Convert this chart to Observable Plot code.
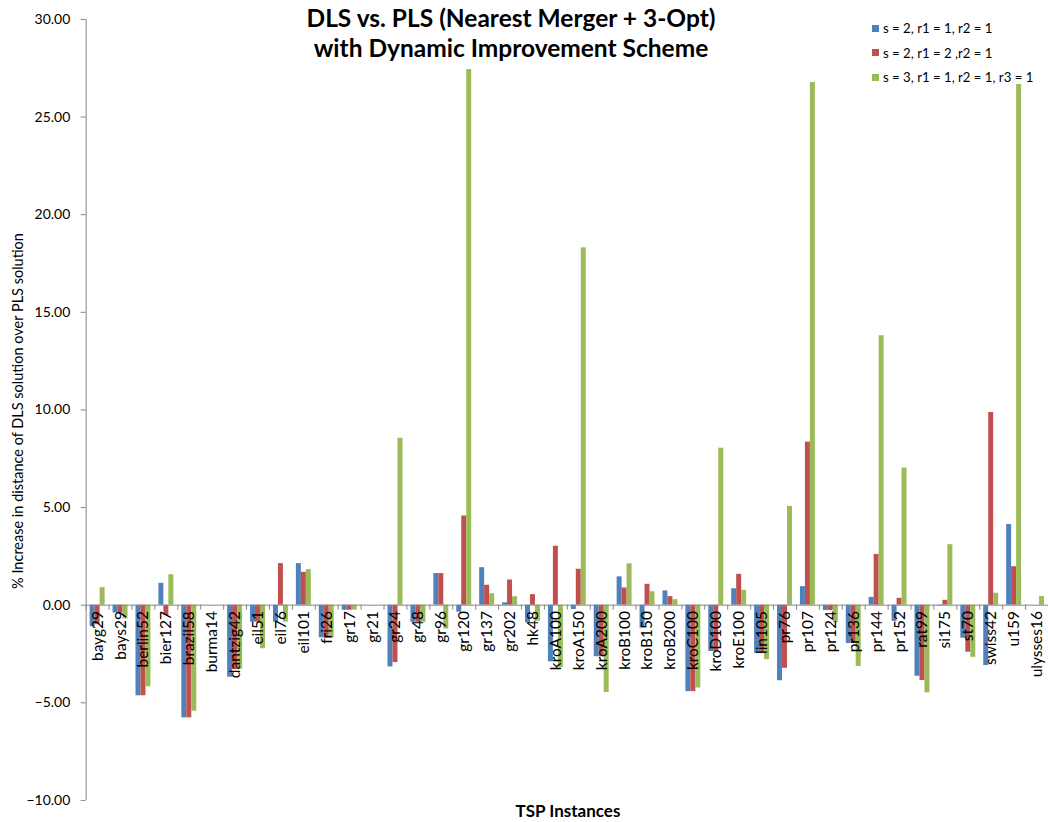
<!DOCTYPE html>
<html>
<head>
<meta charset="utf-8">
<script src="https://cdn.jsdelivr.net/npm/d3@7"></script>
<script src="https://cdn.jsdelivr.net/npm/@observablehq/plot@0.6"></script>
<style>
  html, body { margin: 0; padding: 0; background: #fff; overflow: hidden; }
  #chart { position: relative; width: 1048px; height: 822px; overflow: hidden; font-family: Lato, "Open Sans", sans-serif; color: #000; }
  #chart svg { position: absolute; left: 0; top: 0; }
  .title { position: absolute; left: 0; top: 3px; width: 1022px; text-align: center; font-weight: bold; font-size: 24.5px; line-height: 30px; }
  .legend { position: absolute; left: 872px; top: 16px; font-size: 13.2px; }
  .legend div { height: 24.5px; display: flex; align-items: center; white-space: nowrap; }
  .legend span.sw { display: inline-block; width: 7px; height: 7px; margin-right: 4px; }
  .ylabel { position: absolute; left: 17px; top: 411px; transform: translate(-50%, -50%) rotate(-90deg); white-space: nowrap; font-size: 14.5px; }
  .xlabel { position: absolute; left: 85px; width: 966px; top: 800px; text-align: center; font-weight: bold; font-size: 17px; }
</style>
</head>
<body>
<div id="chart"></div>
<script>
// TSP instances along the category axis
const instances = [
  "bayg29", "bays29", "berlin52", "bier127", "brazil58", "burma14", "dantzig42",
  "eil51", "eil76", "eil101", "fri26", "gr17", "gr21", "gr24", "gr48", "gr96",
  "gr120", "gr137", "gr202", "hk48", "kroA100", "kroA150", "kroA200", "kroB100",
  "kroB150", "kroB200", "kroC100", "kroD100", "kroE100", "lin105", "pr76", "pr107",
  "pr124", "pr136", "pr144", "pr152", "rat99", "si175", "st70", "swiss42", "u159",
  "ulysses16"
];

// Parameter settings (one bar per setting in every group)
const settings = [
  "s = 2, r1 = 1, r2 = 1",
  "s = 2, r1 = 2 ,r2 = 1",
  "s = 3, r1 = 1, r2 = 1, r3 = 1"
];
const settingColors = ["#4F81BD", "#C0504D", "#9BBB59"];

// % increase of the DLS tour length over the PLS tour length
const increaseS2R1 = [
  -1.1, -0.4, -4.64, 1.12, -5.77, 0, -3.69,
  -0.87, -0.87, 2.13, -1.67, -0.26, 0, -3.16, -0.88, 1.62,
  -0.36, 1.92, 0.12, -0.9, -2.9, -0.22, -2.64, 1.45,
  -1.18, 0.73, -4.43, -2.37, 0.84, -2.48, -3.87, 0.95,
  -0.27, -1.96, 0.4, -0.83, -3.64, -0.04, -1.69, -3.09, 4.13,
  0
];
const increaseS2R2 = [
  -1.0, -0.4, -4.64, -0.53, -5.77, 0, -3.3,
  -0.87, 2.13, 1.68, -1.67, -0.26, 0, -2.94, -0.88, 1.62,
  4.57, 1.02, 1.29, 0.54, 3.02, 1.84, -2.64, 0.88,
  1.07, 0.44, -4.43, -2.37, 1.58, -2.48, -3.23, 8.35,
  -0.27, -1.96, 2.6, 0.35, -3.86, 0.25, -2.41, 9.87, 1.97,
  0
];
const increaseS3 = [
  0.9, -0.7, -4.18, 1.56, -5.43, 0, -3.28,
  -2.23, -0.87, 1.82, -1.67, -0.25, 0, 8.55, -0.88, -1.22,
  27.43, 0.58, 0.43, -0.82, -3.19, 18.3, -4.47, 2.12,
  0.69, 0.28, -4.24, 8.04, 0.76, -2.79, 5.06, 26.77,
  -0.89, -3.14, 13.8, 7.02, -4.49, 3.1, -2.67, 0.61, 26.67,
  0.44
];

const yTicks = [-10, -5, 0, 5, 10, 15, 20, 25, 30];

const chartTitle = ["DLS vs. PLS (Nearest Merger + 3-Opt)", "with Dynamic Improvement Scheme"];
const yTitle = "% Increase in distance of DLS solution over PLS solution";
const xTitle = "TSP Instances";

// long-format table for the grouped bars
const seriesValues = [increaseS2R1, increaseS2R2, increaseS3];
const rows = instances.flatMap((name, i) =>
  seriesValues.map((vals, k) => ({instance: name, setting: settings[k], value: vals[i]}))
);

const width = 1052, marginLeft = 85, marginRight = 0;
const step = (width - marginLeft - marginRight) / instances.length;
const axisGray = "#868686";

const svg = Plot.plot({
  width,
  height: 822,
  marginLeft,
  marginRight,
  marginTop: 19,
  marginBottom: 19,
  style: {fontFamily: "Lato, 'Open Sans', sans-serif", background: "transparent", overflow: "visible"},
  fx: {domain: instances, padding: 0, axis: null},
  x: {domain: settings, paddingInner: 0, paddingOuter: 0.66, axis: null},
  y: {domain: [-10, 30], label: null},
  color: {domain: settings, range: settingColors},
  marks: [
    Plot.barY(rows, {fx: "instance", x: "setting", y: "value", fill: "setting"}),
    // category axis along zero with short boundary ticks
    Plot.ruleY([0], {stroke: axisGray}),
    Plot.ruleX(instances, {fx: (d) => d, x: null, y1: () => 0, y2: () => 0, insetBottom: -5, dx: -step / 2, stroke: axisGray}),
    // value axis line
    Plot.ruleX(instances.slice(0, 1), {fx: (d) => d, x: null, y1: () => -10, y2: () => 30, dx: -step / 2, stroke: axisGray}),
    Plot.axisY({ticks: yTicks, tickFormat: d3.format(".2f"), tickSize: 5, tickPadding: 11, stroke: axisGray, fontSize: 14, label: null}),
    Plot.text(instances, {fx: (d) => d, y: () => 0, text: (d) => d, rotate: -90, textAnchor: "end", dy: 6, fontSize: 15.5, fill: "#000"})
  ]
});

const chart = document.getElementById("chart");
chart.appendChild(svg);

const title = document.createElement("div");
title.className = "title";
title.innerHTML = chartTitle.join("<br>");
chart.appendChild(title);

const legend = document.createElement("div");
legend.className = "legend";
settings.forEach((s, k) => {
  const row = document.createElement("div");
  const sw = document.createElement("span");
  sw.className = "sw";
  sw.style.background = settingColors[k];
  row.appendChild(sw);
  row.appendChild(document.createTextNode(s));
  legend.appendChild(row);
});
chart.appendChild(legend);

const yl = document.createElement("div");
yl.className = "ylabel";
yl.textContent = yTitle;
chart.appendChild(yl);

const xl = document.createElement("div");
xl.className = "xlabel";
xl.textContent = xTitle;
chart.appendChild(xl);
</script>
</body>
</html>
